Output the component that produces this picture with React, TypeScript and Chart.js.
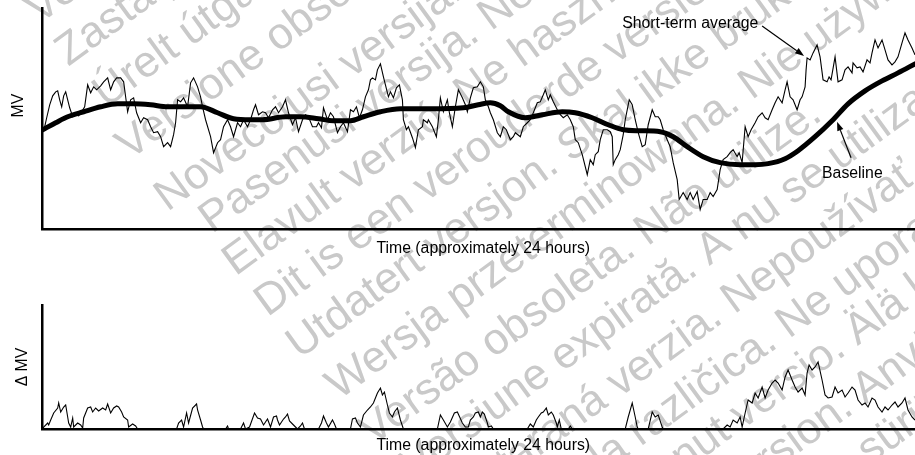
import React, { useEffect, useRef } from 'react';
import { Chart, registerables } from 'chart.js';

Chart.register(...registerables);

// ---------- DATA (time in samples 0..873 across ~24 hours; MV in arbitrary units) ----------
const TIME_MAX = 873;
const MV_MAX = 222;
const DMV_MAX = 124;

const stTime = [0,2,4,7,10,13,15,17,19,21,23,25,27,30,33,36,39,42,45,48,51,54,58,61,65,68,71,74,78,81,83,85,88,91,94,98,101,105,108,111,115,118,121,125,128,131,133,135,138,141,145,148,151,155,158,160,163,168,171,175,178,181,185,188,191,195,198,201,205,208,211,213,216,220,223,226,230,233,236,240,243,246,250,253,256,260,263,266,270,274,276,279,281,285,288,291,295,298,301,305,308,311,314,317,320,323,326,328,330,333,335,338,341,343,346,348,351,354,357,360,361,364,366,370,373,376,380,381,385,386,390,394,396,398,401,405,407,410,413,416,420,423,425,428,431,435,438,441,443,446,448,451,455,458,461,464,468,471,473,478,481,485,488,491,495,498,501,503,506,508,511,515,518,521,525,528,531,533,536,540,545,548,551,553,556,558,561,565,568,570,571,573,576,578,581,583,587,590,593,596,600,603,606,610,613,616,618,621,625,628,631,635,637,641,645,648,651,655,658,661,665,668,671,675,678,681,685,688,691,695,697,700,703,706,709,713,716,720,723,726,730,733,736,740,743,745,748,751,755,758,760,763,764,765,768,771,775,778,781,785,787,789,793,796,800,803,806,810,811,815,818,821,825,828,830,833,836,840,843,846,850,853,856,860,863,866,870,873];
const stMV = [100,103,112,125,134,138,139,130,123,134,138,130,122,113,115,114,118,123,145,137,143,140,144,148,152,140,148,152,152,148,133,118,130,132,117,107,112,110,103,97,98,93,83,87,83,95,107,130,128,132,123,147,152,143,133,123,110,93,77,87,90,103,110,103,93,107,103,110,103,110,120,125,115,118,117,112,120,123,117,123,130,117,105,112,98,110,115,113,103,103,107,102,122,110,117,113,97,103,107,98,120,118,123,112,120,133,140,150,152,150,160,166,153,145,133,138,132,142,145,130,110,100,103,92,82,100,103,110,107,110,103,93,110,132,118,130,117,103,123,140,132,125,118,132,142,143,148,143,130,123,117,110,97,93,103,100,90,93,97,93,103,107,110,117,127,128,135,140,130,135,128,120,115,112,115,110,103,90,87,75,55,70,65,75,78,90,100,100,98,93,65,70,75,80,95,110,130,125,110,97,83,85,105,120,113,113,110,100,90,83,67,50,30,37,30,37,30,38,20,30,30,37,33,40,60,70,73,77,80,73,77,67,103,93,100,107,113,117,112,110,120,127,133,127,140,148,133,130,120,130,133,143,160,172,170,177,185,173,150,148,153,150,173,148,150,160,163,157,167,162,163,158,170,167,177,190,182,190,180,170,165,168,173,187,197,190,182,175];

const blTime = [0,13,25,41,58,75,91,108,125,143,158,175,191,208,220,243,258,276,291,308,321,338,358,388,421,436,448,458,466,483,500,520,533,550,566,581,598,618,631,645,661,678,698,713,726,743,756,773,790,806,823,840,856,873];
const blMV = [100,107,113,118,123,126,126,125,123,123,123,117,111,110,110,113,113,111,109,109,113,118,121,121,122,125,127,124,118,112,115,118,117,112,105,100,99,98,93,83,73,67,65,65,66,71,79,93,109,126,139,149,157,166];

const dTime = [0,1,5,6,8,11,15,16,18,21,23,25,26,28,30,31,35,38,40,41,45,48,50,53,56,60,63,65,68,71,74,76,79,81,85,86,90,93,95,134,136,139,141,144,146,150,154,155,158,160,161,183,185,186,198,201,203,207,212,215,218,221,225,228,231,234,235,237,241,243,245,247,250,253,255,258,260,262,276,279,281,284,286,290,292,294,308,310,313,315,318,321,325,328,331,335,338,340,342,345,347,350,352,355,358,361,395,398,401,405,408,412,415,420,423,426,428,431,433,436,438,440,442,445,446,449,451,485,488,491,494,496,499,501,504,506,509,511,514,515,517,519,526,528,530,583,586,590,593,595,596,606,610,613,616,620,621,681,685,688,691,695,698,700,703,706,710,713,716,720,723,726,730,733,736,740,743,746,750,753,756,760,763,765,767,770,773,776,780,783,786,790,793,796,800,803,806,810,813,816,820,823,826,830,833,836,840,843,846,850,853,856,860,863,866,870,873];
const dMV = [0,2,6,4,9,16,21,26,17,22,24,12,6,2,11,2,6,4,1,11,21,22,17,21,18,21,19,25,16,21,23,22,17,12,9,2,5,3,0,0,6,9,2,16,6,21,25,19,9,2,0,0,3,0,0,6,0,2,16,11,10,4,10,2,12,13,9,4,10,12,15,8,5,2,0,3,6,0,0,6,13,6,2,9,5,0,0,10,11,6,2,14,19,22,26,36,41,34,37,24,16,12,17,21,9,0,0,14,9,2,7,16,17,6,2,2,9,12,16,17,12,17,15,6,2,3,0,0,5,2,9,12,16,17,21,14,17,14,6,2,9,0,0,3,0,0,12,26,12,2,0,0,17,12,14,2,0,0,4,2,9,6,12,2,16,29,26,36,31,42,31,39,46,49,46,39,52,59,49,42,37,41,34,56,64,59,62,67,49,34,31,32,42,36,39,32,36,42,39,29,24,26,22,31,29,22,17,22,19,24,27,22,26,31,19,12,9];

// Annotations (positions in data units)
const labelTexts = ['Short-term average', 'Baseline'];
const labelTime = [580, 780];
const labelMV = [201.5, 52];
const arrowFromTime = [720, 809];
const arrowFromMV = [204, 72];
const arrowToTime = [762, 795];
const arrowToMV = [174, 108];

// Background watermark ("outdated version" stamp), one rotated line per language
const wmText = [
  'Version obsolète. Ne pas utiliser.',
  'Zastarjela verzija. Nemojte upotrebljavati.',
  'Úrelt útgáfa. Notið ekki.',
  'Versione obsoleta. Non utilizzare.',
  'Novecojusi versija. Neizmantot.',
  'Pasenusi versija. Nenaudokite.',
  'Elavult verzió. Ne használja!',
  'Dit is een verouderde versie. Niet gebruiken.',
  'Utdatert versjon. Skal ikke brukes.',
  'Wersja przeterminowana. Nie używać.',
  'Versão obsoleta. Não utilize.',
  'Versiune expirată. A nu se utiliza.',
  'Zastaraná verzia. Nepoužívať.',
  'Zastarela različica. Ne uporabite.',
  'Vanhentunut versio. Älä käytä.',
  'Föråldrad version. Använd ej.',
  'Güncel olmayan sürüm. Kullanmayın.',
];
const wmAlong = [17, 16, 22, 10, 11, 34, 28, 30, 31, 39, 39, 53, 57, 60, 90, 95, 100];
const wmAcross = [43, 94, 150, 206, 270, 314, 362, 414, 467, 523, 580, 632, 686, 738, 784, 836, 888];
const WM_ANGLE = 36;

const FONT = "'Liberation Sans', Arial, Helvetica, sans-serif";
const FONT_SIZE = 15.8;
const LH = FONT_SIZE * 1.2;

const toXY = (xs: number[], ys: number[]) => xs.map((x, i) => ({ x, y: ys[i] }));

function makeWatermark(offsetY: number) {
  return {
    id: 'watermark',
    beforeDraw(chart: any) {
      const { ctx } = chart;
      ctx.save();
      ctx.translate(0, -offsetY);
      ctx.rotate((-WM_ANGLE * Math.PI) / 180);
      ctx.fillStyle = '#c9c9c9';
      ctx.font = `44px ${FONT}`;
      ctx.textAlign = 'left';
      ctx.textBaseline = 'alphabetic';
      wmText.forEach((t, i) => ctx.fillText(t, wmAlong[i], wmAcross[i]));
      ctx.restore();
    },
  };
}

const annotationPlugin = {
  id: 'annotations',
  afterDatasetsDraw(chart: any) {
    const { ctx, scales } = chart;
    const xs = scales.x;
    const ys = scales.y;
    ctx.save();
    ctx.fillStyle = '#000';
    ctx.strokeStyle = '#000';
    ctx.font = `${FONT_SIZE}px ${FONT}`;
    ctx.textAlign = 'left';
    ctx.textBaseline = 'alphabetic';
    labelTexts.forEach((t, i) => {
      ctx.fillText(t, xs.getPixelForValue(labelTime[i]), ys.getPixelForValue(labelMV[i]));
    });
    arrowFromTime.forEach((_, i) => {
      const x1 = xs.getPixelForValue(arrowFromTime[i]);
      const y1 = ys.getPixelForValue(arrowFromMV[i]);
      const x2 = xs.getPixelForValue(arrowToTime[i]);
      const y2 = ys.getPixelForValue(arrowToMV[i]);
      const ang = Math.atan2(y2 - y1, x2 - x1);
      const head = 9;
      const half = 3.2;
      const bx = x2 - head * Math.cos(ang);
      const by = y2 - head * Math.sin(ang);
      ctx.lineWidth = 1.2;
      ctx.beginPath();
      ctx.moveTo(x1, y1);
      ctx.lineTo(bx, by);
      ctx.stroke();
      ctx.beginPath();
      ctx.moveTo(x2, y2);
      ctx.lineTo(bx + half * Math.sin(ang), by - half * Math.cos(ang));
      ctx.lineTo(bx - half * Math.sin(ang), by + half * Math.cos(ang));
      ctx.closePath();
      ctx.fill();
    });
    ctx.restore();
  },
};

function axisX(title: string, padTop: number, padBottom: number) {
  return {
    type: 'linear' as const,
    min: 0,
    max: TIME_MAX,
    ticks: { display: false },
    grid: { display: false, drawTicks: false },
    border: { display: true, color: '#000', width: 2.5 },
    title: {
      display: true,
      text: title,
      color: '#000',
      font: { size: FONT_SIZE, family: FONT },
      padding: { top: padTop, bottom: padBottom },
    },
  };
}

function axisY(title: string, max: number, padTop: number, padBottom: number) {
  return {
    type: 'linear' as const,
    min: 0,
    max,
    ticks: { display: false },
    grid: { display: false, drawTicks: false },
    border: { display: true, color: '#000', width: 2.5 },
    title: {
      display: true,
      text: title,
      color: '#000',
      font: { size: FONT_SIZE, family: FONT },
      padding: { top: padTop, bottom: padBottom },
    },
  };
}

const TOP_H = 262;
const BOT_H = 193;
const X_TITLE = '  Time (approximately 24 hours)';

export default function App() {
  const topRef = useRef<HTMLCanvasElement>(null);
  const botRef = useRef<HTMLCanvasElement>(null);

  useEffect(() => {
    document.body.style.margin = '0';
    Chart.defaults.font.family = FONT;
    Chart.defaults.color = '#000';

    const topPb = TOP_H - 248.5 - LH / 2;
    const topPt = TOP_H - 229.5 - LH - topPb;
    const botPb = 0;
    const botPt = BOT_H - 167 - LH - botPb;

    const top = new Chart(topRef.current!, {
      type: 'line',
      data: {
        datasets: [
          {
            label: 'Baseline',
            data: toXY(blTime, blMV),
            borderColor: '#000',
            borderWidth: 5,
            pointRadius: 0,
            cubicInterpolationMode: 'monotone',
            borderCapStyle: 'round',
          },
          {
            label: 'Short-term average',
            data: toXY(stTime, stMV),
            borderColor: '#000',
            borderWidth: 1.1,
            pointRadius: 0,
            tension: 0,
          },
        ],
      },
      options: {
        responsive: false,
        animation: false,
        devicePixelRatio: 1,
        parsing: false,
        layout: { padding: { top: 8, left: 0, right: 0, bottom: 0 } },
        plugins: { legend: { display: false }, tooltip: { enabled: false }, title: { display: false } },
        events: [],
        scales: {
          x: axisX(X_TITLE, topPt, topPb),
          y: axisY('      MV', MV_MAX, 18.7 - LH / 2, 42.7 - LH - (18.7 - LH / 2)),
        },
      },
      plugins: [makeWatermark(0), annotationPlugin],
    } as any);

    const bot = new Chart(botRef.current!, {
      type: 'line',
      data: {
        datasets: [
          {
            label: 'Δ MV',
            data: toXY(dTime, dMV),
            borderColor: '#000',
            borderWidth: 1.1,
            pointRadius: 0,
            tension: 0,
          },
        ],
      },
      options: {
        responsive: false,
        animation: false,
        devicePixelRatio: 1,
        parsing: false,
        layout: { padding: { top: 43, left: 0, right: 0, bottom: 0 } },
        plugins: { legend: { display: false }, tooltip: { enabled: false }, title: { display: false } },
        events: [],
        scales: {
          x: axisX(X_TITLE, botPt, botPb),
          y: axisY('Δ MV', DMV_MAX, 23 - LH / 2, 42.7 - LH - (23 - LH / 2)),
        },
      },
      plugins: [makeWatermark(TOP_H)],
    } as any);

    return () => {
      top.destroy();
      bot.destroy();
    };
  }, []);

  return (
    <div style={{ width: 915, height: 455, background: '#fff', overflow: 'hidden' }}>
      <canvas ref={topRef} width={915} height={TOP_H} style={{ display: 'block', width: 915, height: TOP_H }} />
      <canvas ref={botRef} width={915} height={BOT_H} style={{ display: 'block', width: 915, height: BOT_H }} />
    </div>
  );
}
